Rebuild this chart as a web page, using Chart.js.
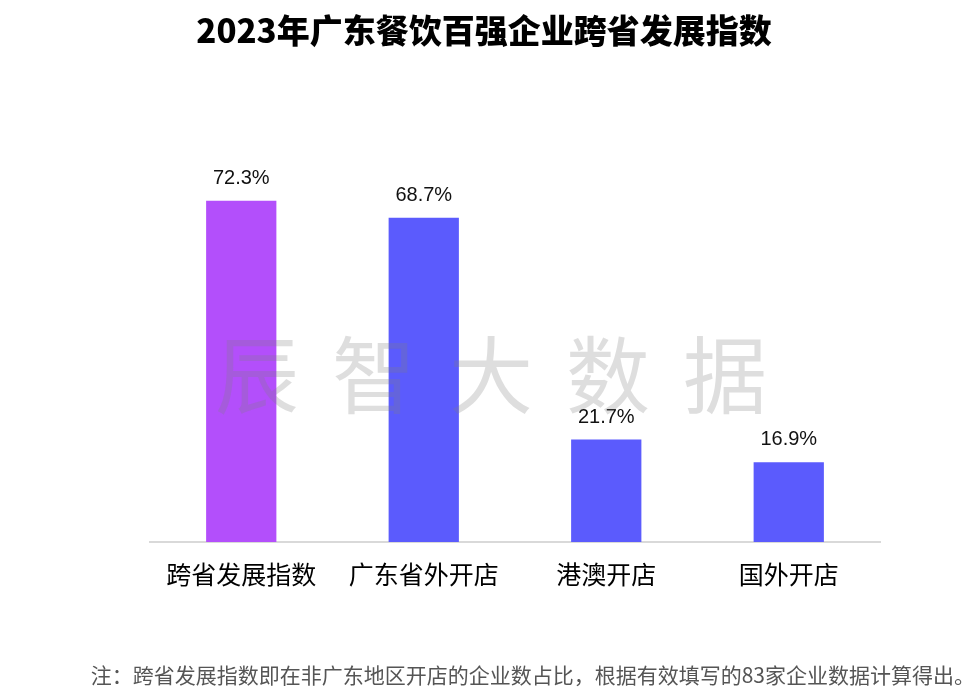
<!DOCTYPE html>
<html>
<head>
<meta charset="utf-8">
<script src="https://cdn.jsdelivr.net/npm/chart.js@4/dist/chart.umd.min.js"></script>
<style>
  html, body { margin: 0; padding: 0; background: #fff; }
  #wrap { width: 980px; height: 696px; position: relative; }
</style>
</head>
<body>
<div id="wrap"><canvas id="chart"></canvas></div>
<script>
// chart data
const categories = ['跨省发展指数', '广东省外开店', '港澳开店', '国外开店'];
const values = [72.3, 68.7, 21.7, 16.9];
const barColors = ['#B34FFB', '#5B5BFD', '#5B5BFD', '#5B5BFD'];

const titleText = '2023年广东餐饮百强企业跨省发展指数';
const noteText = '注：跨省发展指数即在非广东地区开店的企业数占比，根据有效填写的83家企业数据计算得出。';
const watermark = ['辰', '智', '大', '数', '据'];

const cjk = '"Noto Sans CJK SC", "Noto Sans", sans-serif';

// title, note, watermark and value labels
const extras = {
    id: 'extras',
    afterDatasetsDraw(chart) {
        const ctx = chart.ctx;
        const meta = chart.getDatasetMeta(0);

        ctx.save();
        // value labels above bars
        ctx.fillStyle = '#111';
        ctx.font = '20px "Liberation Sans", Arial, sans-serif';
        ctx.textAlign = 'center';
        ctx.textBaseline = 'alphabetic';
        meta.data.forEach((bar, i) => {
            ctx.fillText(values[i].toFixed(1) + '%', bar.x, bar.y - 17);
        });

        // watermark
        ctx.fillStyle = 'rgba(128,128,128,0.26)';
        ctx.font = '84px ' + cjk;
        ctx.textBaseline = 'middle';
        watermark.forEach((ch, i) => {
            ctx.fillText(ch, 257 + i * 117, 375);
        });

        // title
        ctx.fillStyle = '#000';
        ctx.font = '900 33px ' + cjk;
        ctx.fillText(titleText, 484, 30);

        // footnote
        ctx.fillStyle = '#555';
        ctx.font = '21px ' + cjk;
        ctx.textAlign = 'right';
        ctx.fillText(noteText, 975, 675);
        ctx.restore();
    }
};

new Chart(document.getElementById('chart'), {
    type: 'bar',
    data: {
        labels: categories,
        datasets: [{
            data: values,
            backgroundColor: barColors,
            categoryPercentage: 1,
            barPercentage: 0.385
        }]
    },
    options: {
        responsive: true,
        maintainAspectRatio: false,
        animation: false,
        layout: { padding: { left: 150, right: 100, top: 70, bottom: 98 } },
        plugins: {
            legend: { display: false },
            tooltip: { enabled: false }
        },
        scales: {
            x: {
                grid: { display: false },
                border: { color: '#d9d9d9', width: 2 },
                ticks: {
                    color: '#000',
                    font: { family: cjk, size: 25 },
                    padding: 9
                }
            },
            y: {
                display: false,
                min: 0,
                max: 100
            }
        }
    },
    plugins: [extras]
});
</script>
</body>
</html>
